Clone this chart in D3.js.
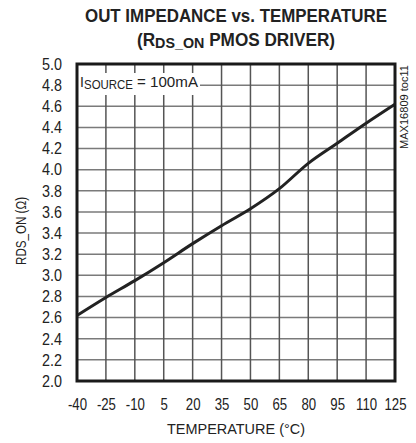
<!DOCTYPE html>
<html>
<head>
<meta charset="utf-8">
<script src="https://cdn.jsdelivr.net/npm/d3@7"></script>
<style>
  body { margin: 0; background: #fff; }
  text { font-family: "Liberation Sans", Arial, sans-serif; fill: #222; }
</style>
</head>
<body>
<script>
// data
const temps = [-40, -25, -10, 5, 20, 35, 50, 65, 80, 95, 110, 125];
const rdsOn = [2.62, 2.79, 2.95, 3.12, 3.30, 3.47, 3.63, 3.82, 4.06, 4.25, 4.44, 4.62];
const xTicks = [-40, -25, -10, 5, 20, 35, 50, 65, 80, 95, 110, 125];
const yTicks = d3.range(20, 51, 2).map(d => d / 10);

const w = 416, h = 443;
const margin = ({top: 64, right: 21, bottom: 62, left: 77});

const svg = d3.select("body")
    .append("svg")
    .attr("width", w)
    .attr("height", h);

let x = d3.scaleLinear()
    .domain([-40, 125])
    .range([margin.left, w - margin.right]);

let y = d3.scaleLinear()
    .domain([2, 5])
    .range([h - margin.bottom, margin.top]);

// squeeze text horizontally, the original font is condensed
function squeeze(sel, k) {
    sel.each(function() {
        const len = this.getComputedTextLength();
        d3.select(this)
            .attr("textLength", len * k)
            .attr("lengthAdjust", "spacingAndGlyphs");
    });
}

// grid
svg.append("g")
    .selectAll("line")
    .data(yTicks)
    .enter().append("line")
    .attr("x1", x(-40)).attr("x2", x(125))
    .attr("y1", d => y(d)).attr("y2", d => y(d))
    .attr("stroke", "#7a7a7a")
    .attr("stroke-width", 1.5);

svg.append("g")
    .selectAll("line")
    .data(xTicks)
    .enter().append("line")
    .attr("x1", d => x(d)).attr("x2", d => x(d))
    .attr("y1", y(2)).attr("y2", y(5))
    .attr("stroke", "#555")
    .attr("stroke-width", 1.5);

// legend box hides the grid behind it
svg.append("rect")
    .attr("x", x(-40) + 1)
    .attr("y", 73)
    .attr("width", 122)
    .attr("height", 22)
    .attr("fill", "#fff");

svg.append("text")
    .attr("x", 80).attr("y", 87)
    .style("font-size", "14px")
    .text("I");
svg.append("text")
    .attr("x", 84).attr("y", 89)
    .style("font-size", "13px")
    .attr("textLength", 49).attr("lengthAdjust", "spacingAndGlyphs")
    .text("SOURCE");
svg.append("text")
    .attr("x", 137).attr("y", 87)
    .style("font-size", "15px")
    .attr("textLength", 61).attr("lengthAdjust", "spacingAndGlyphs")
    .text("= 100mA");

// data line
let line = d3.line()
    .x((d, i) => x(temps[i]))
    .y(d => y(d))
    .curve(d3.curveMonotoneX);

svg.append("path")
    .datum(rdsOn)
    .attr("d", line)
    .attr("fill", "none")
    .attr("stroke", "#222")
    .attr("stroke-width", 3);

// frame
svg.append("rect")
    .attr("x", x(-40))
    .attr("y", y(5))
    .attr("width", x(125) - x(-40))
    .attr("height", y(2) - y(5))
    .attr("fill", "none")
    .attr("stroke", "#1a1a1a")
    .attr("stroke-width", 3);

// axes (labels only)
let xAxis = d3.axisBottom(x).tickValues(xTicks).tickSize(0).tickPadding(17).tickFormat(d => String(d));
let yAxis = d3.axisLeft(y).tickValues(yTicks).tickSize(0).tickPadding(15).tickFormat(d3.format(".1f"));

const gx = svg.append("g")
    .attr("transform", `translate(0,${h - margin.bottom})`)
    .call(xAxis);
const gy = svg.append("g")
    .attr("transform", `translate(${margin.left},0)`)
    .call(yAxis);

[gx, gy].forEach(g => {
    g.select(".domain").remove();
    g.selectAll("text")
        .style("font-size", "16.5px")
        .style("font-family", "'Liberation Sans', Arial, sans-serif")
        .attr("fill", "#222");
});
squeeze(gx.selectAll("text"), 0.8);
squeeze(gy.selectAll("text"), 0.87);

// titles
svg.append("text")
    .attr("x", 236).attr("y", 22)
    .attr("text-anchor", "middle")
    .style("font-size", "18px")
    .style("font-weight", "bold")
    .attr("textLength", 302).attr("lengthAdjust", "spacingAndGlyphs")
    .text("OUT IMPEDANCE vs. TEMPERATURE");

const t2 = svg.append("text")
    .attr("x", 236).attr("y", 46)
    .attr("text-anchor", "middle")
    .style("font-size", "18px")
    .style("font-weight", "bold");
t2.append("tspan").text("(R");
t2.append("tspan").attr("dy", 2).style("font-size", "15px").text("DS_ON");
t2.append("tspan").attr("dy", -2).text(" PMOS DRIVER)");
t2.attr("textLength", 198).attr("lengthAdjust", "spacingAndGlyphs");

svg.append("text")
    .attr("x", 236).attr("y", 434)
    .attr("text-anchor", "middle")
    .style("font-size", "15px")
    .attr("textLength", 138).attr("lengthAdjust", "spacingAndGlyphs")
    .text("TEMPERATURE (°C)");

svg.append("text")
    .attr("transform", "translate(26,231) rotate(-90)")
    .attr("text-anchor", "middle")
    .style("font-size", "14px")
    .attr("fill", "#333")
    .attr("textLength", 68).attr("lengthAdjust", "spacingAndGlyphs")
    .text("RDS_ON (Ω)");

svg.append("text")
    .attr("transform", "translate(408,107) rotate(-90)")
    .attr("text-anchor", "middle")
    .style("font-size", "10px")
    .attr("fill", "#444")
    .attr("textLength", 84).attr("lengthAdjust", "spacingAndGlyphs")
    .text("MAX16809 toc11");
</script>
</body>
</html>
